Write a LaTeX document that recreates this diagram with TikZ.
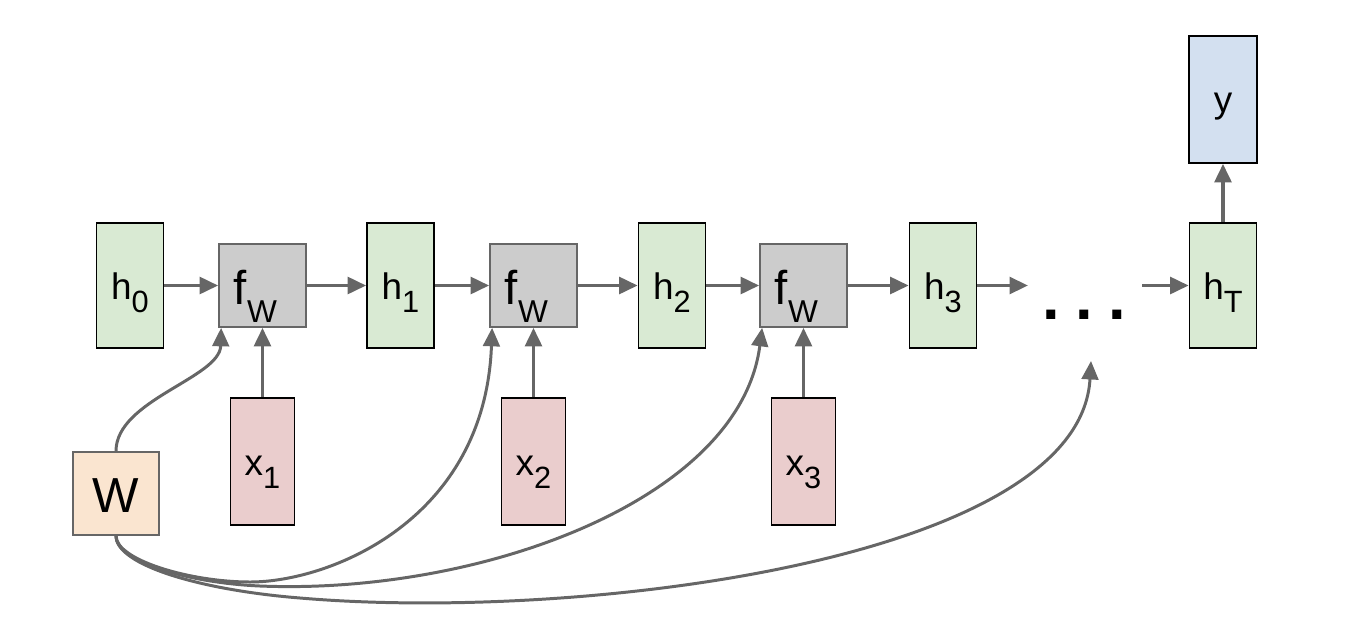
\documentclass[tikz,border=0pt]{standalone}
\usepackage{fontspec}
\setmainfont{Liberation Sans}
\usetikzlibrary{arrows.meta,calc}
\definecolor{hgreen}{HTML}{D9EAD3}
\definecolor{fgray}{HTML}{CCCCCC}
\definecolor{xpink}{HTML}{EACDCD}
\definecolor{worange}{HTML}{FAE5D0}
\definecolor{yblue}{HTML}{D3E0F0}
\definecolor{linegray}{HTML}{666666}
\newcommand{\hsb}[2]{#1\raisebox{-7.4pt}{\fontsize{17.5}{17.5}\selectfont #2}}
\newcommand{\fwlabel}{f\raisebox{-10.8pt}{\fontsize{18}{18}\selectfont W}\hspace*{8pt}}
\tikzset{
  box/.style={draw, line width=1pt, inner sep=0pt, text depth=0pt, align=center},
  hbox/.style={box, fill=hgreen, draw=black, minimum width=1.34cm, minimum height=2.5cm,
    font=\fontsize{21}{21}\selectfont, text height=0.54cm},
  xbox/.style={box, fill=xpink, draw=black, minimum width=1.28cm, minimum height=2.54cm,
    font=\fontsize{21}{21}\selectfont, text height=0.54cm},
  ybox/.style={box, fill=yblue, draw=black, minimum width=1.36cm, minimum height=2.54cm,
    font=\fontsize{21}{21}\selectfont, text height=0.5cm},
  fbox/.style={box, fill=fgray, draw=linegray, minimum width=1.74cm, minimum height=1.66cm,
    font=\fontsize{27}{27}\selectfont, text height=0.74cm},
  wbox/.style={box, fill=worange, draw=linegray, minimum width=1.72cm, minimum height=1.66cm,
    font=\fontsize{28}{28}\selectfont, text height=0.74cm},
  arr/.style={-{Triangle[length=10.5pt,width=9.5pt]}, line width=2pt, draw=linegray},
  carr/.style={arr, line width=1.7pt},
}
\begin{document}
\begin{tikzpicture}[x=0.02cm, y=-0.02cm]
\useasboundingbox (0,0) rectangle (1366,616);
% hidden states
\node[hbox] (h0) at (130,285.5) {\hsb{h}{0}};
\node[hbox] (h1) at (400.5,285.5) {\hsb{h}{1}};
\node[hbox] (h2) at (672,285.5) {\hsb{h}{2}};
\node[hbox] (h3) at (943,285.5) {\hsb{h}{3}};
\node[hbox] (hT) at (1223,285.5) {\hsb{h}{T}};
% functions
\node[fbox] (f1) at (262.5,285.5) {\fwlabel};
\node[fbox] (f2) at (533.5,285.5) {\fwlabel};
\node[fbox] (f3) at (803.5,285.5) {\fwlabel};
% inputs
\node[xbox] (x1) at (262.5,461.5) {\hsb{x}{1}};
\node[xbox] (x2) at (533.5,461.5) {\hsb{x}{2}};
\node[xbox] (x3) at (803.5,461.5) {\hsb{x}{3}};
% weights and output
\node[wbox] (W) at (116,493.5) {W};
\node[ybox] (y) at (1223,99.5) {y};
% dots
\node[anchor=base, inner sep=0pt, font=\fontsize{36}{36}\selectfont\bfseries] (dots) at (1084,319) {.\hspace{8.7pt}.\hspace{8.7pt}.};
\coordinate (d1) at (1028,285.5);
\coordinate (d2) at (1142,285.5);
\coordinate (c4) at (1091,361);
% chain arrows
\draw[arr] (h0) -- (f1);
\draw[arr] (f1) -- (h1);
\draw[arr] (h1) -- (f2);
\draw[arr] (f2) -- (h2);
\draw[arr] (h2) -- (f3);
\draw[arr] (f3) -- (h3);
\draw[arr] (h3.east) -- (d1);
\draw[arr] (d2) -- (hT.west);
\draw[arr] (hT) -- (y);
\draw[arr] (x1) -- (f1);
\draw[arr] (x2) -- (f2);
\draw[arr] (x3) -- (f3);
% weight curves
\draw[carr] (W.north) .. controls (116,400) and (220,378) .. ($(f1.south west)+(3,0)$);
\draw[carr] (W.south) .. controls (116,560) and (190,582) .. (250,582)
  .. controls (330,582) and (485,520) .. ($(f2.south west)+(3,0)$);
\draw[carr] (W.south) .. controls (116,562) and (190,583) .. (260,586)
  .. controls (480,595) and (740,500) .. ($(f3.south west)+(3,0)$);
\draw[carr] (W.south) .. controls (116,565) and (200,590) .. (300,598)
  .. controls (580,622) and (1080,560) .. (c4);
\end{tikzpicture}
\end{document}
